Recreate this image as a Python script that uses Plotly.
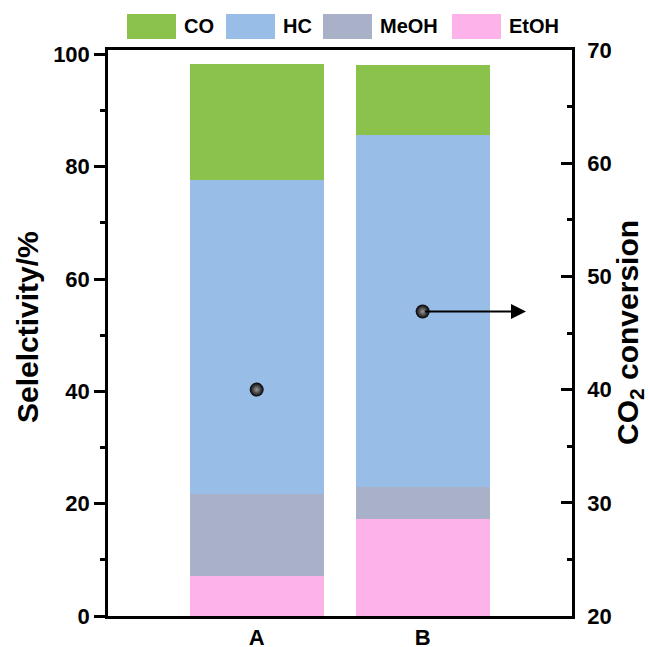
import plotly.graph_objects as go

# ---------------- data ----------------
categories = ["A", "B"]
series_names = ["EtOH", "MeOH", "HC", "CO"]          # stacking order bottom -> top
etoh = [7.1, 17.2]
meoh = [14.7, 5.7]
hc = [55.8, 62.7]
co = [20.7, 12.6]
co2_conversion = [40.0, 46.9]
legend_order = ["CO", "HC", "MeOH", "EtOH"]

left_ticks = [0, 20, 40, 60, 80, 100]
right_ticks = [20, 30, 40, 50, 60, 70]

# ---------------- style ----------------
colors = {"CO": "#8BC24C", "HC": "#98BDE6", "MeOH": "#A9B1C8", "EtOH": "#FDB2EA"}
FONT = "Liberation Sans"
W, H = 649, 647
L, R, T, B = 108, 572, 50, 616

def px(xp):
    return (xp - L) / (R - L)

def py(yp):
    return (B - yp) / (B - T)

values = {"EtOH": etoh, "MeOH": meoh, "HC": hc, "CO": co}

fig = go.Figure()
for name in series_names:
    fig.add_trace(go.Bar(
        x=categories, y=values[name], name=name,
        marker=dict(color=colors[name], line=dict(width=0)),
        width=0.807, showlegend=False,
    ))

fig.add_trace(go.Scatter(
    x=categories, y=co2_conversion, yaxis="y2", mode="markers",
    marker=dict(size=14, color="#000000",
                gradient=dict(type="radial", color="#9a9a9a"),
                line=dict(width=0)),
    showlegend=False,
))

# arrow from point B to the right axis
fig.add_annotation(
    x=px(526), xref="paper", y=co2_conversion[1], yref="y2",
    ax=-(526 - 422), ay=0, axref="pixel", ayref="pixel",
    showarrow=True, arrowhead=2, arrowsize=1.5, arrowwidth=2, arrowcolor="black",
    text=" ",
)

# custom legend
legend_x = [127, 226, 323, 452]
box_w, box_top, box_bot = 49, 14, 39
shapes = []
for name, x0 in zip(legend_order, legend_x):
    shapes.append(dict(type="rect", xref="paper", yref="paper",
                       x0=px(x0), x1=px(x0 + box_w), y0=py(box_bot), y1=py(box_top),
                       fillcolor=colors[name], line=dict(width=0), layer="above"))
    fig.add_annotation(x=px(x0 + box_w + 6), y=py((box_top + box_bot) / 2),
                       xref="paper", yref="paper", xanchor="left", yanchor="middle",
                       text=name, showarrow=False,
                       font=dict(family=FONT, size=20, color="black", weight="bold"))

# axis titles
fig.add_annotation(x=px(27), y=py(327), xref="paper", yref="paper",
                   text="Selelctivity/%", textangle=-90, showarrow=False,
                   xanchor="center", yanchor="middle",
                   font=dict(family=FONT, size=30, color="black", weight="bold"))
fig.add_annotation(x=px(629), y=py(333), xref="paper", yref="paper",
                   text="CO<sub>2</sub> conversion", textangle=-90, showarrow=False,
                   xanchor="center", yanchor="middle",
                   font=dict(family=FONT, size=30, color="black", weight="bold"))

tickfont = dict(family=FONT, size=22, color="black", weight="bold")

fig.update_layout(
    width=W, height=H,
    margin=dict(l=L, r=W - R, t=T, b=H - B, pad=0, autoexpand=False),
    paper_bgcolor="white", plot_bgcolor="white",
    barmode="stack", bargap=0,
    shapes=shapes,
    xaxis=dict(type="category", categoryorder="array", categoryarray=categories,
               range=[-0.896, 1.9], showline=True, linecolor="black", linewidth=2.5,
               mirror=True, ticks="", showgrid=False, zeroline=False, automargin=False,
               tickfont=tickfont, ticklabelstandoff=0),
    yaxis=dict(range=[0, 100.8], tickvals=left_ticks, showline=True, linecolor="black",
               linewidth=2.5, ticks="outside", ticklen=11, tickwidth=2.5, tickcolor="black",
               minor=dict(dtick=10, tick0=0, ticks="outside", ticklen=5, tickwidth=2.5,
                          tickcolor="black"),
               showgrid=False, zeroline=False, automargin=False,
               tickfont=tickfont, ticklabelstandoff=0),
    yaxis2=dict(range=[20, 70], tickvals=right_ticks, overlaying="y", side="right",
                showline=True, linecolor="black", linewidth=2.5, ticks="inside",
                ticklen=11, tickwidth=2.5, tickcolor="black",
                minor=dict(dtick=5, tick0=20, ticks="inside", ticklen=5, tickwidth=2.5,
                           tickcolor="black"),
                showgrid=False, zeroline=False, automargin=False,
                tickfont=tickfont, ticklabelstandoff=8),
)

fig.write_html("out.html")
